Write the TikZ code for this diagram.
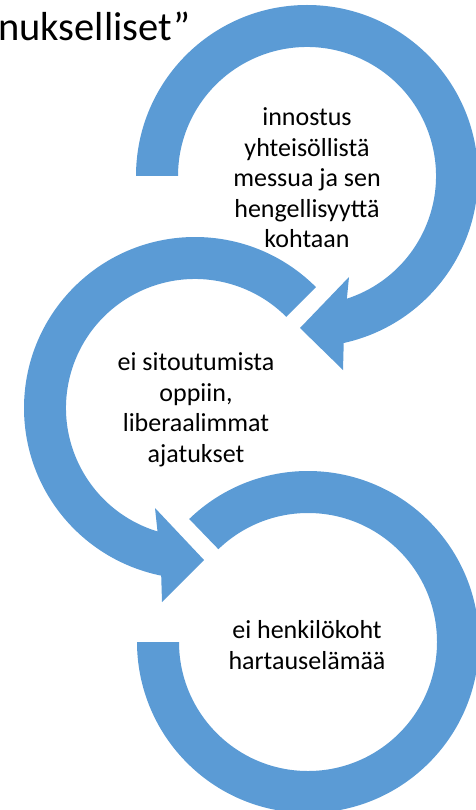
\documentclass[tikz,border=0pt]{standalone}
\usepackage{fontspec}
\setmainfont{Carlito}
\definecolor{ringblue}{RGB}{91,155,213}
\begin{document}
\begin{tikzpicture}[x=1pt,y=1pt,
  ring/.style={fill=ringblue,draw=none},
  lbl/.style={align=center,inner sep=0pt,font=\fontsize{26}{30.5}\selectfont}]
\useasboundingbox (0,0) rectangle (475,-810);
\coordinate (c1) at (307,-176);
\coordinate (c2) at (195,-408);
\coordinate (c3) at (308,-642);
% ring 1 with arrow head
\fill[ring] ([shift={(180:171)}]c1) arc[start angle=180,end angle=-77.6,radius=171]
  -- (343,-370) -- (300,-328) -- (349,-277)
  -- ([shift={(-72:129)}]c1) arc[start angle=-72,end angle=180,radius=129] -- cycle;
% ring 2 with arrow head
\fill[ring] ([shift={(45:171)}]c2) arc[start angle=45,end angle=258.6,radius=171]
  -- (162,-602) -- (204,-560) -- (155,-508)
  -- ([shift={(253.1:129)}]c2) arc[start angle=253.1,end angle=45,radius=129] -- cycle;
% ring 3
\fill[ring] ([shift={(134:171)}]c3) arc[start angle=134,end angle=-180,radius=171]
  -- ([shift={(180:129)}]c3) arc[start angle=-180,end angle=134,radius=129] -- cycle;
% texts
\node[anchor=base west,inner sep=0pt,font=\fontsize{40.5}{48}\selectfont] (t0) at (-2,-41) {nukselliset”};
\node[lbl] (l1) at (307,-178) {innostus\\yhteisöllistä\\messua ja sen\\hengellisyyttä\\kohtaan};
\node[lbl] (l2) at (196,-410) {ei sitoutumista\\oppiin,\\liberaalimmat\\ajatukset};
\node[lbl] (l3) at (307,-645) {ei henkilökoht\\hartauselämää};
\end{tikzpicture}
\end{document}
